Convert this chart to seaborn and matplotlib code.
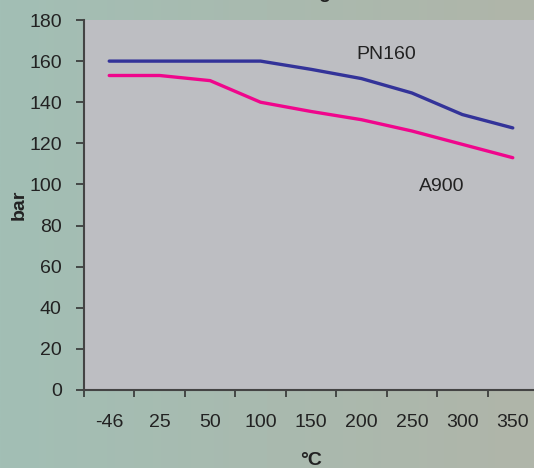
import matplotlib
matplotlib.use("Agg")
import matplotlib.pyplot as plt
import numpy as np
import pandas as pd
import seaborn as sns

# data
temps = ["-46", "25", "50", "100", "150", "200", "250", "300", "350"]
pn160 = [160, 160, 160, 160, 156, 151.5, 144.5, 134, 127.5]
a900 = [153, 153, 150.5, 140, 135.5, 131.5, 126, 119.5, 113]
yticks = [0, 20, 40, 60, 80, 100, 120, 140, 160, 180]

sns.set_style("white")
plt.rcParams["font.family"] = ["Liberation Sans", "DejaVu Sans"]

df = pd.DataFrame({
    "pos": list(range(len(temps))) * 2,
    "bar": pn160 + a900,
    "series": ["PN160"] * len(temps) + ["A900"] * len(temps),
})

fig = plt.figure(figsize=(5.34, 4.68), dpi=100)

# gradient background for the whole figure
bg = fig.add_axes([0, 0, 1, 1], zorder=-10)
left = np.array([162, 191, 181]) / 255
right = np.array([176, 181, 169]) / 255
t = np.linspace(0, 1, 256)[None, :, None]
grad = left + (right - left) * t
grad = np.repeat(grad, 2, axis=0)
bg.imshow(grad, aspect="auto", extent=[0, 1, 0, 1])
bg.axis("off")

ax = fig.add_axes([84 / 534, 78 / 468, 454 / 534, 370 / 468])
ax.set_facecolor("#bdbec2")

sns.lineplot(data=df, x="pos", y="bar", hue="series",
             palette={"PN160": "#333399", "A900": "#f0068c"},
             linewidth=2.4, legend=False, ax=ax)

ax.set_xlim(-0.5, len(temps) - 0.5)
ax.set_ylim(0, 180)
ax.set_yticks(yticks)

# category ticks at the boundaries, labels in the middle
ax.set_xticks(np.arange(-0.5, len(temps), 1))
ax.set_xticklabels([])
ax.set_xticks(np.arange(len(temps)), labels=temps, minor=True)
ax.tick_params(axis="x", which="major", length=5, width=1.2, color="#333333",
               direction="out", bottom=True)
ax.tick_params(axis="x", which="minor", length=0, pad=17, labelsize=14,
               labelcolor="#222222")
ax.tick_params(axis="y", length=6, width=1.2, color="#333333", direction="out",
               left=True, pad=10, labelsize=14, labelcolor="#222222")

for side in ["top", "right"]:
    ax.spines[side].set_visible(False)
for side in ["left", "bottom"]:
    ax.spines[side].set_color("#444444")
    ax.spines[side].set_linewidth(1.5)

ax.set_xlabel("°C", fontsize=14, fontweight="bold", color="#222222")
ax.set_ylabel("bar", fontsize=14, fontweight="bold", color="#222222")
ax.xaxis.set_label_coords(0.5, -0.168)
ax.yaxis.set_label_coords(-0.125, 0.5)

ax.text(5.5, 163, "PN160", fontsize=14, ha="center", va="center", color="#222222")
ax.text(6.6, 99, "A900", fontsize=14, ha="center", va="center", color="#222222")

# title mostly cut off above the top edge
fig.text(331 / 534, 470 / 468, "Pressure rating", ha="right", va="baseline",
         fontsize=14, fontweight="bold", color="#222222")

fig.savefig("out.png", dpi=100)
